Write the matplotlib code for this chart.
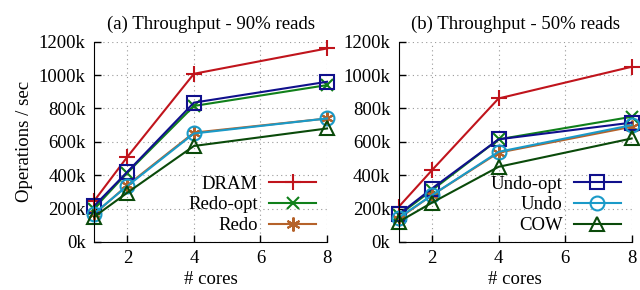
import matplotlib.pyplot as plt

plt.rcParams['font.family'] = ['Liberation Serif', 'DejaVu Serif']
plt.rcParams['font.size'] = 13.5

cores = [1, 2, 4, 8]

# throughput in k ops/sec
left_vals = {
    "DRAM": [245, 510, 1008, 1160],
    "Redo-opt": [200, 415, 815, 940],
    "Redo": [165, 340, 655, 740],
    "Undo-opt": [215, 420, 835, 960],
    "Undo": [170, 335, 650, 740],
    "COW": [150, 295, 575, 680],
}
right_vals = {
    "DRAM": [210, 430, 860, 1050],
    "Redo-opt": [160, 310, 615, 750],
    "Redo": [140, 280, 535, 690],
    "Undo-opt": [165, 320, 615, 715],
    "Undo": [145, 280, 540, 700],
    "COW": [120, 235, 450, 620],
}

styles = {
    "DRAM": dict(color="#c0141c", marker="+", ms=11),
    "Redo-opt": dict(color="#10801a", marker="x", ms=9),
    "Redo": dict(color="#b5622a", marker=(6, 2, 0), ms=10),
    "Undo-opt": dict(color="#10108c", marker="s", ms=10, mfc="none"),
    "Undo": dict(color="#1a9ac8", marker="o", ms=10, mfc="none"),
    "COW": dict(color="#0a4a0a", marker="^", ms=10, mfc="none"),
}

titles = ["(a) Throughput - 90% reads", "(b) Throughput - 50% reads"]
legend_sets = [["DRAM", "Redo-opt", "Redo"], ["Undo-opt", "Undo", "COW"]]

fig = plt.figure(figsize=(6.4, 2.9), dpi=100)
ax1 = fig.add_axes([0.147, 0.166, 0.364, 0.69])
ax2 = fig.add_axes([0.623, 0.166, 0.364, 0.69])

for ax, vals, title, leg in zip([ax1, ax2], [left_vals, right_vals], titles, legend_sets):
    handles = {}
    for name in ["DRAM", "Redo-opt", "Redo", "Undo-opt", "Undo", "COW"]:
        st = styles[name]
        h, = ax.plot(cores, [v * 1000 for v in vals[name]], color=st["color"],
                     marker=st["marker"], markersize=st["ms"],
                     markerfacecolor=st.get("mfc", st["color"]),
                     markeredgewidth=1.5, linewidth=1.5, label=name, clip_on=False)
        handles[name] = h
    ax.set_xlim(1, 8)
    ax.set_ylim(0, 1200000)
    ax.set_xticks([2, 4, 6, 8])
    ax.set_yticks(range(0, 1200001, 200000))
    ax.set_yticklabels([f"{v // 1000}k" for v in range(0, 1200001, 200000)])
    ax.tick_params(direction="in", length=5, width=1, colors="black", pad=6)
    ax.spines["top"].set_visible(False)
    ax.spines["right"].set_visible(False)
    ax.grid(True, linestyle=(0, (1, 3)), color="#999999", linewidth=0.8)
    ax.set_axisbelow(True)
    ax.set_title(title, fontsize=13.5, pad=9)
    ax.set_xlabel("# cores", labelpad=3)
    ax.legend([handles[n] for n in leg], leg, loc="lower right",
              bbox_to_anchor=(0.985, 0.0), frameon=False,
              markerfirst=False, handlelength=2.5, handletextpad=0.6,
              labelspacing=0.2, borderaxespad=0.0, fontsize=13.5)

ax1.set_ylabel("Operations / sec", labelpad=4)

plt.savefig("out.png", dpi=100)
